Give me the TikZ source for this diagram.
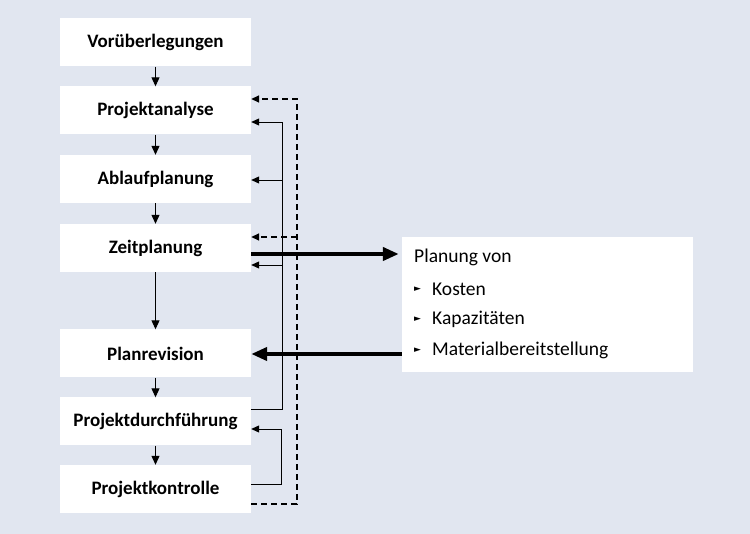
\documentclass[tikz,border=0pt]{standalone}
\usepackage{fontspec}
\setmainfont{Carlito}
\newfontfamily\symfont{DejaVu Sans}
\usetikzlibrary{arrows.meta}
\definecolor{bg}{HTML}{E1E6F0}
\tikzset{
  stepbox/.style={fill=white,draw=none,minimum width=191pt,minimum height=48pt,inner sep=0pt,font=\fontsize{19}{21}\selectfont\bfseries},
  down/.style={-{Triangle[length=9pt,width=8pt]},line width=1pt},
  fb/.style={-{Triangle[length=8pt,width=7pt]},line width=0.9pt},
  dsh/.style={-{Triangle[length=8pt,width=7pt]},line width=1.6pt,dash pattern=on 6pt off 4pt},
  big/.style={-{Triangle[length=16pt,width=13pt]},line width=4pt},
  rtext/.style={anchor=west,inner sep=0pt,font=\fontsize{19.5}{21}\selectfont},
  bul/.style={anchor=west,inner sep=0pt,font=\symfont\fontsize{9}{10}\selectfont}
}
\begin{document}
\begin{tikzpicture}[x=1pt,y=-1pt]
\fill[bg] (0,0) rectangle (750,534);
\useasboundingbox (0,0) rectangle (750,534);
\node[stepbox] (V)  at (155.5,42.5) {Vorüberlegungen};
\node[stepbox] (PA) at (155.5,110.5) {Projektanalyse};
\node[stepbox] (AP) at (155.5,179) {Ablaufplanung};
\node[stepbox] (ZP) at (155.5,248) {Zeitplanung};
\node[stepbox] (PR) at (155.5,353.5) {Planrevision};
\node[stepbox] (PD) at (155.5,421.5) {Projektdurchführung};
\node[stepbox] (PK) at (155.5,489) {Projektkontrolle};
\node[fill=white,minimum width=291pt,minimum height=135pt,inner sep=0pt] (R) at (547.5,304.5) {};
\node[rtext] (t0) at (414,257) {Planung von};
\node[bul] (b1) at (414,289) {►};
\node[rtext] (t1) at (432,289) {Kosten};
\node[bul] (b2) at (414,319) {►};
\node[rtext] (t2) at (432,319) {Kapazitäten};
\node[bul] (b3) at (414,350) {►};
\node[rtext] (t3) at (432,350) {Materialbereitstellung};
% down arrows
\draw[down] (V) -- (PA);
\draw[down] (PA) -- (AP);
\draw[down] (AP) -- (ZP);
\draw[down] (ZP) -- (PR);
\draw[down] (PR) -- (PD);
\draw[down] (PD) -- (PK);
% solid feedback
\coordinate (s1) at (282,409);
\coordinate (s2) at (282,122);
\draw[fb] (PD.east |- s1) -- (s1) -- (s2) -- (PA.east |- s2);
\draw[fb] (282,180) coordinate (s3) -- (AP.east |- s3);
\draw[fb] (282,265) coordinate (s4) -- (ZP.east |- s4);
\coordinate (k1) at (281,484);
\coordinate (k2) at (281,429);
\draw[fb] (PK.east |- k1) -- (k1) -- (k2) -- (PD.east |- k2);
% dashed feedback
\coordinate (d1) at (297,504);
\coordinate (d2) at (297,99);
\draw[dsh] (PK.east |- d1) -- (d1) -- (d2) -- (PA.east |- d2);
\draw[dsh] (297,237) coordinate (d3) -- (ZP.east |- d3);
% thick arrows
\coordinate (h1) at (0,254);
\coordinate (h2) at (0,354);
\draw[big,shorten >=3pt] (ZP.east |- h1) -- (R.west |- h1);
\draw[big] (R.west |- h2) -- (PR.east |- h2);
\end{tikzpicture}
\end{document}
